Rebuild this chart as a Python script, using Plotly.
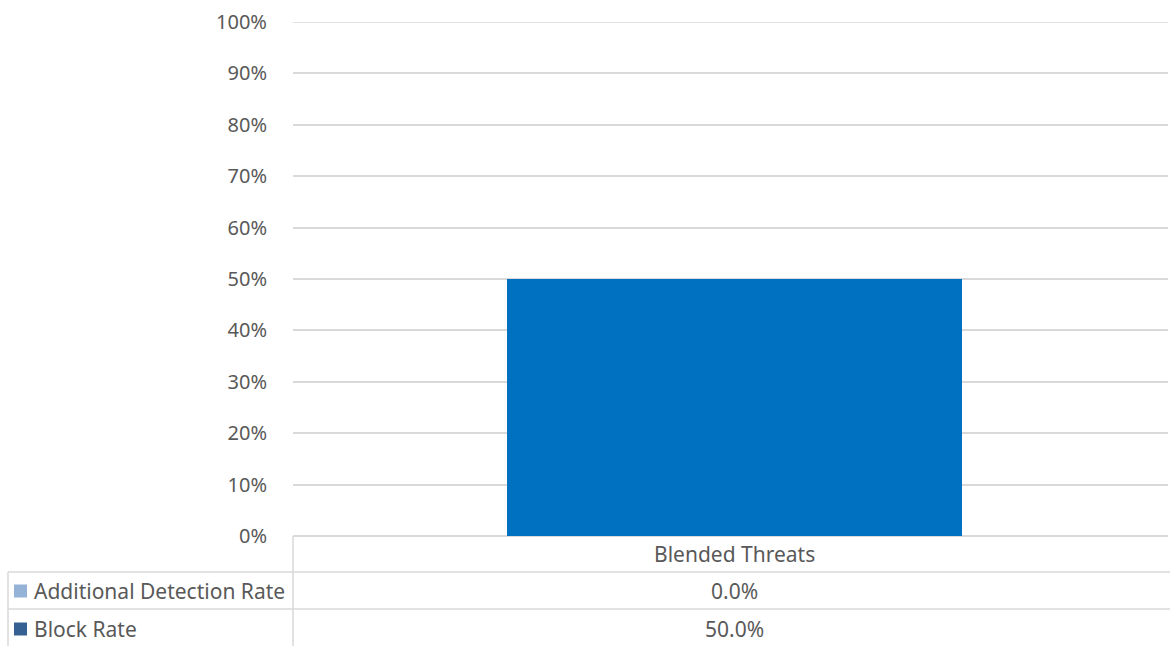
import plotly.graph_objects as go

categories = ["Blended Threats"]
series_names = ["Additional Detection Rate", "Block Rate"]
additional_rate = [0.0]
block_rate = [50.0]
y_ticks = [0, 10, 20, 30, 40, 50, 60, 70, 80, 90, 100]

W, H = 1170, 646
ML, MR, MT, MB = 293, 2, 22, 110
plot_w = W - ML - MR
plot_h = H - MT - MB

def px(xp):
    return (xp - ML) / plot_w

def py(yp):
    return (H - MB - yp) / plot_h

grid = "#D9D9D9"
txt = "#595959"
font = "Noto Sans"
fs = 20
fs_t = 21

fig = go.Figure()
fig.add_trace(go.Bar(x=categories, y=block_rate, name=series_names[1],
                     marker=dict(color="#0070C0", line=dict(width=0))))
fig.add_trace(go.Bar(x=categories, y=additional_rate, name=series_names[0],
                     marker=dict(color="#95B3D7", line=dict(width=0))))

shapes = []
line = dict(color=grid, width=1.5)
# top gridline (100%)
shapes.append(dict(type="line", xref="paper", yref="y", x0=0, x1=1,
                   y0=y_ticks[-1], y1=y_ticks[-1], line=line, layer="below"))
# table horizontal lines
for yp in (572, 609):
    shapes.append(dict(type="line", xref="paper", yref="paper",
                       x0=px(8), x1=px(1170), y0=py(yp), y1=py(yp), line=line))
# vertical lines
shapes.append(dict(type="line", xref="paper", yref="paper",
                   x0=px(8), x1=px(8), y0=py(572), y1=py(646), line=line))
shapes.append(dict(type="line", xref="paper", yref="paper",
                   x0=px(293), x1=px(293), y0=py(536), y1=py(646), line=line))

annotations = []
# category label
annotations.append(dict(xref="x", yref="paper", x=categories[0], y=py(554),
                        text=categories[0], showarrow=False,
                        font=dict(family=font, size=fs_t, color=txt), yanchor="middle"))

key_colors = ["#95B3D7", "#366092"]
row_vals = [additional_rate, block_rate]
row_y = [591, 629]
for name, kc, vals, yc in zip(series_names, key_colors, row_vals, row_y):
    shapes.append(dict(type="rect", xref="paper", yref="paper",
                       x0=px(14), x1=px(27), y0=py(yc - 6.5), y1=py(yc + 6.5),
                       fillcolor=kc, line=dict(width=0)))
    annotations.append(dict(xref="paper", yref="paper", x=px(32), y=py(yc),
                            text=name, showarrow=False, xanchor="left", yanchor="middle",
                            font=dict(family=font, size=fs_t, color=txt)))
    for c, v in zip(categories, vals):
        annotations.append(dict(xref="x", yref="paper", x=c, y=py(yc),
                                text=f"{v:.1f}%", showarrow=False, yanchor="middle",
                                font=dict(family=font, size=fs_t, color=txt)))

fig.update_layout(
    width=W, height=H,
    margin=dict(l=ML, r=MR, t=MT, b=MB),
    plot_bgcolor="white", paper_bgcolor="white",
    barmode="stack", bargap=0.48,
    showlegend=False,
    shapes=shapes, annotations=annotations,
    xaxis=dict(range=[-0.5046, 0.4954], showticklabels=False, showgrid=False,
               zeroline=False, showline=False, ticks=""),
    yaxis=dict(range=[0, 100], tickvals=y_ticks,
               ticktext=[f"{t}%" for t in y_ticks],
               showgrid=True, gridcolor=grid, gridwidth=1.5,
               zeroline=True, zerolinecolor=grid, zerolinewidth=1.5,
               showline=False, ticks="", ticklabelstandoff=25,
               tickfont=dict(family=font, size=fs, color=txt)),
)

fig.write_html("out.html", config={"displayModeBar": False},
               post_script="document.body.style.margin='0';document.body.style.overflow='hidden';")
